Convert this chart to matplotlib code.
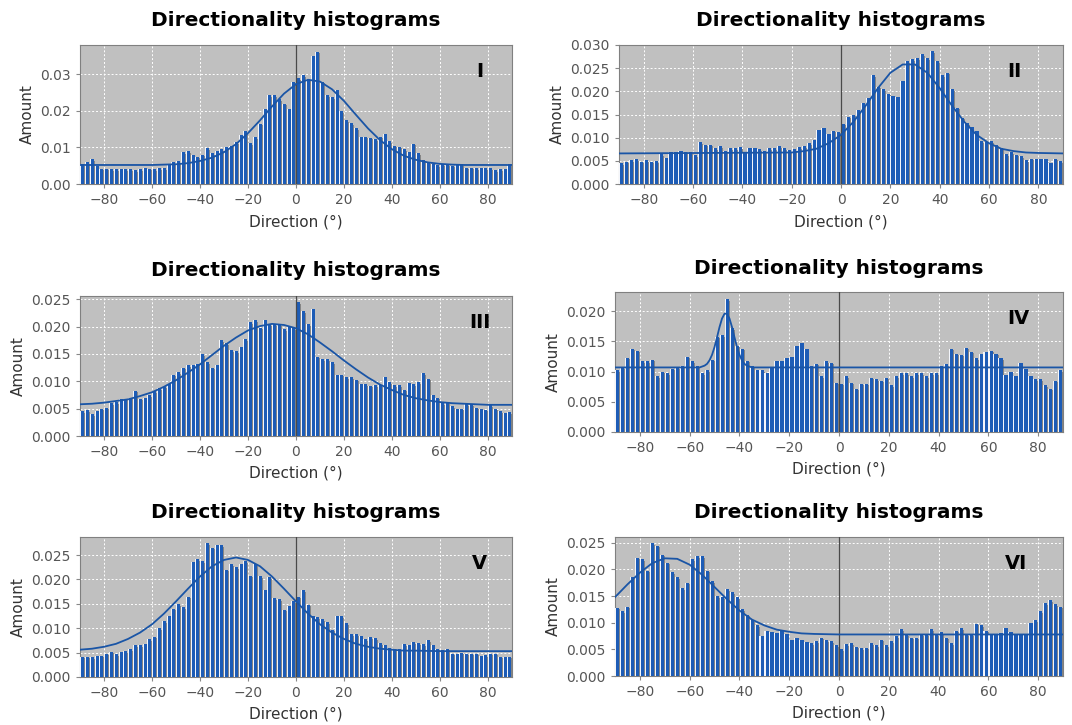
import matplotlib
matplotlib.use('Agg')
import matplotlib.pyplot as plt
from matplotlib.ticker import FormatStrFormatter
import numpy as np

# direction bins, 2 degrees wide, from -90 to 90
bin_left = np.arange(-90, 90, 2)

# histogram values (one per bin, left to right)
amount_I = [0.0055, 0.0060, 0.0067, 0.0050, 0.0042, 0.0042, 0.0040, 0.0040, 0.0042, 0.0040,
            0.0040, 0.0038, 0.0040, 0.0043, 0.0042, 0.0040, 0.0044,
            0.0044, 0.0053, 0.0060, 0.0062, 0.0087, 0.0090, 0.0078, 0.0075, 0.0080,
            0.0098, 0.0085, 0.0090, 0.0095, 0.0100, 0.0105, 0.0115, 0.0135, 0.0145, 0.0112,
            0.0128, 0.0165, 0.0205,
            0.0243, 0.0242, 0.0232, 0.0220, 0.0206, 0.0280,
            0.0290, 0.0298, 0.0288, 0.0350, 0.0362, 0.0280,
            0.0243, 0.0238, 0.0256, 0.0200,
            0.0175, 0.0167, 0.0152, 0.0129, 0.0129, 0.0127, 0.0122, 0.0129, 0.0138, 0.0118, 0.0105,
            0.0102, 0.0095, 0.0088, 0.0110, 0.0085, 0.0065, 0.0060, 0.0055, 0.0052, 0.0055,
            0.0055, 0.0050, 0.0052, 0.0055, 0.0045, 0.0045, 0.0043, 0.0043, 0.0043, 0.0043,
            0.0038, 0.0040, 0.0040, 0.0055]
amount_II = [0.0045, 0.0048, 0.0052, 0.0053, 0.0048, 0.0052, 0.0048, 0.0050, 0.0065, 0.0057,
             0.0070, 0.0070, 0.0072, 0.0070, 0.0068, 0.0062,
             0.0090, 0.0085, 0.0085, 0.0077, 0.0082, 0.0072, 0.0078, 0.0077, 0.0080, 0.0068,
             0.0078, 0.0078, 0.0075, 0.0072, 0.0078, 0.0077, 0.0082, 0.0078, 0.0073, 0.0075,
             0.0080, 0.0082, 0.0088,
             0.0095, 0.0117, 0.0120, 0.0108, 0.0115, 0.0113,
             0.0130, 0.0145, 0.0150, 0.0160, 0.0175, 0.0185, 0.0235, 0.0210, 0.0205, 0.0195,
             0.0190, 0.0188, 0.0222, 0.0265, 0.0270, 0.0272, 0.0280, 0.0272, 0.0287, 0.0265,
             0.0235, 0.0240, 0.0205, 0.0165, 0.0143, 0.0132, 0.0122, 0.0115, 0.0092, 0.0090,
             0.0093, 0.0085, 0.0077, 0.0065, 0.0068, 0.0063, 0.0060, 0.0052, 0.0055, 0.0053,
             0.0055, 0.0055, 0.0045, 0.0055, 0.0050]
amount_III = [0.0045, 0.0047, 0.0040, 0.0046, 0.0050, 0.0052, 0.0060, 0.0062, 0.0067, 0.0068,
              0.0070, 0.0083, 0.0068, 0.0070, 0.0075, 0.0082, 0.0088, 0.0090, 0.0095, 0.0112,
              0.0117, 0.0125, 0.0130, 0.0130, 0.0132, 0.0150, 0.0135, 0.0125, 0.0130, 0.0175,
              0.0170, 0.0157, 0.0155, 0.0162, 0.0177, 0.0208, 0.0212, 0.0198, 0.0212, 0.0205,
              0.0205, 0.0205, 0.0195, 0.0202, 0.0197,
              0.0245, 0.0228, 0.0205, 0.0232, 0.0145, 0.0140, 0.0140, 0.0135, 0.0112, 0.0112,
              0.0107, 0.0107, 0.0103, 0.0095, 0.0095, 0.0092, 0.0093, 0.0093, 0.0108, 0.0098,
              0.0093, 0.0093, 0.0085, 0.0097, 0.0095, 0.0098, 0.0115, 0.0105, 0.0075, 0.0070,
              0.0060, 0.0062, 0.0055, 0.0050, 0.0050, 0.0058, 0.0058, 0.0052, 0.0050, 0.0048,
              0.0057, 0.0050, 0.0045, 0.0042, 0.0043]
amount_IV = [0.0103, 0.0107, 0.0123, 0.0138, 0.0135, 0.0117, 0.0117, 0.0120, 0.0093, 0.0100,
             0.0097, 0.0105, 0.0108, 0.0110, 0.0125, 0.0117, 0.0110, 0.0097, 0.0102, 0.0120,
             0.0158, 0.0160, 0.0220, 0.0172, 0.0143, 0.0138, 0.0118, 0.0110, 0.0103, 0.0102,
             0.0097, 0.0107, 0.0118, 0.0118, 0.0123, 0.0125, 0.0142, 0.0148, 0.0138, 0.0110,
             0.0113, 0.0093, 0.0117, 0.0115, 0.0082,
             0.0080, 0.0092, 0.0082, 0.0072, 0.0080, 0.0080, 0.0090, 0.0087, 0.0085, 0.0090,
             0.0078, 0.0093, 0.0097, 0.0097, 0.0092, 0.0098, 0.0098, 0.0093, 0.0097, 0.0098,
             0.0110, 0.0112, 0.0138, 0.0130, 0.0128, 0.0140, 0.0133, 0.0122, 0.0130, 0.0132,
             0.0135, 0.0130, 0.0122, 0.0095, 0.0100, 0.0092, 0.0115, 0.0105, 0.0093, 0.0088,
             0.0088, 0.0078, 0.0072, 0.0085, 0.0102]
amount_V = [0.0042, 0.0042, 0.0040, 0.0044, 0.0044, 0.0048, 0.0052, 0.0047, 0.0052, 0.0053,
            0.0057, 0.0065, 0.0065, 0.0067, 0.0078, 0.0083, 0.0100, 0.0115, 0.0125, 0.0140,
            0.0150, 0.0143, 0.0165, 0.0235, 0.0242, 0.0237, 0.0275, 0.0265, 0.0270, 0.0270,
            0.0220, 0.0232, 0.0225, 0.0232, 0.0238, 0.0208, 0.0232, 0.0207, 0.0178, 0.0205,
            0.0162, 0.0160, 0.0138, 0.0145, 0.0155,
            0.0165, 0.0178, 0.0148, 0.0125, 0.0122, 0.0118, 0.0112, 0.0097, 0.0125, 0.0125,
            0.0110, 0.0088, 0.0088, 0.0085, 0.0078, 0.0082, 0.0080, 0.0070, 0.0065, 0.0060,
            0.0058, 0.0058, 0.0068, 0.0065, 0.0072, 0.0070, 0.0068, 0.0075, 0.0065, 0.0058,
            0.0055, 0.0058, 0.0048, 0.0048, 0.0050, 0.0048, 0.0048, 0.0048, 0.0043, 0.0045,
            0.0048, 0.0048, 0.0042, 0.0042, 0.0042]
amount_VI = [0.0128, 0.0122, 0.0130, 0.0185, 0.0222, 0.0220, 0.0198, 0.0250, 0.0245, 0.0228,
             0.0213, 0.0195, 0.0185, 0.0165, 0.0175, 0.0220, 0.0225, 0.0225, 0.0198, 0.0178,
             0.0150, 0.0148, 0.0163, 0.0158, 0.0148, 0.0125, 0.0115, 0.0105, 0.0095, 0.0075,
             0.0085, 0.0082, 0.0080, 0.0085, 0.0078, 0.0068, 0.0072, 0.0067, 0.0063, 0.0062,
             0.0065, 0.0072, 0.0067, 0.0065, 0.0058,
             0.0050, 0.0060, 0.0062, 0.0055, 0.0052, 0.0053, 0.0062, 0.0058, 0.0068, 0.0058,
             0.0065, 0.0075, 0.0088, 0.0078, 0.0072, 0.0072, 0.0078, 0.0078, 0.0088, 0.0078,
             0.0082, 0.0072, 0.0062, 0.0085, 0.0090, 0.0078, 0.0078, 0.0098, 0.0095, 0.0085,
             0.0078, 0.0078, 0.0080, 0.0090, 0.0082, 0.0078, 0.0077, 0.0078, 0.0100, 0.0105,
             0.0122, 0.0137, 0.0143, 0.0135, 0.0130]

# fitted curves, points
fit_x_I = [-90, -60, -55, -50, -45, -40, -35, -30, -25, -20, -15, -10, -5, 0, 5, 10, 15,
           20, 25, 30, 35, 40, 45, 50, 55, 60, 65, 70, 90]
fit_y_I = [0.0052, 0.0052, 0.0053, 0.0054, 0.0057, 0.0063, 0.0072, 0.0087, 0.0109, 0.0139,
           0.0174, 0.0212, 0.0247, 0.0273, 0.0285, 0.0280, 0.0259, 0.0227, 0.0189, 0.0152,
           0.0120, 0.0095, 0.0077, 0.0066, 0.0059, 0.0055, 0.0053, 0.0052, 0.0052]
fit_x_II = [-90, -20, -15, -10, -5, 0, 5, 10, 15, 20, 25, 30, 35, 40, 45, 50, 55, 60, 65,
            70, 75, 80, 90]
fit_y_II = [0.0066, 0.0068, 0.0071, 0.0076, 0.0088, 0.0106, 0.0134, 0.0169, 0.0207, 0.0240,
            0.0258, 0.0258, 0.0240, 0.0207, 0.0169, 0.0134, 0.0106, 0.0088, 0.0076, 0.0071,
            0.0068, 0.0067, 0.0066]
fit_x_III = [-90, -85, -80, -75, -70, -65, -60, -55, -50, -45, -40, -35, -30, -25, -20, -15,
             -10, -5, 0, 5, 10, 15, 20, 25, 30, 35, 40, 45, 50, 55, 60, 65, 70, 80, 90]
fit_y_III = [0.0058, 0.0059, 0.0061, 0.0064, 0.0067, 0.0073, 0.0080, 0.0090, 0.0102, 0.0116,
             0.0131, 0.0148, 0.0165, 0.0180, 0.0193, 0.0201, 0.0205, 0.0203, 0.0197, 0.0186,
             0.0171, 0.0155, 0.0138, 0.0122, 0.0107, 0.0094, 0.0084, 0.0075, 0.0069, 0.0065,
             0.0062, 0.0060, 0.0059, 0.0057, 0.0057]
fit_x_IV = [-90, -56, -54, -53, -52, -51, -50, -49, -48, -47, -46, -45, -44, -43, -42, -41,
            -40, -39, -38, -37, -35, 90]
fit_y_IV = [0.0107, 0.0107, 0.0110, 0.0113, 0.0119, 0.0128, 0.0141, 0.0157, 0.0174, 0.0188,
            0.0196, 0.0196, 0.0188, 0.0174, 0.0157, 0.0141, 0.0128, 0.0119, 0.0113, 0.0110,
            0.0107, 0.0107]
fit_x_V = [-90, -85, -80, -75, -70, -65, -60, -55, -50, -45, -40, -35, -30, -25, -20, -15,
           -10, -5, 0, 5, 10, 15, 20, 25, 30, 35, 40, 45, 50, 60, 90]
fit_y_V = [0.0056, 0.0058, 0.0062, 0.0068, 0.0078, 0.0091, 0.0108, 0.0130, 0.0155, 0.0181,
           0.0206, 0.0227, 0.0240, 0.0245, 0.0240, 0.0227, 0.0206, 0.0181, 0.0155, 0.0130,
           0.0108, 0.0091, 0.0078, 0.0068, 0.0062, 0.0058, 0.0056, 0.0054, 0.0054, 0.0053,
           0.0053]
fit_x_VI = [-90, -85, -80, -75, -70, -65, -60, -55, -50, -45, -40, -35, -30, -25, -20, -15,
            -10, 0, 90]
fit_y_VI = [0.0148, 0.0172, 0.0194, 0.0212, 0.0221, 0.0220, 0.0209, 0.0190, 0.0167, 0.0144,
            0.0123, 0.0106, 0.0095, 0.0087, 0.0083, 0.0080, 0.0079, 0.0078, 0.0078]

labels = ['I', 'II', 'III', 'IV', 'V', 'VI']
amounts = [amount_I, amount_II, amount_III, amount_IV, amount_V, amount_VI]
fits = [(fit_x_I, fit_y_I), (fit_x_II, fit_y_II), (fit_x_III, fit_y_III),
        (fit_x_IV, fit_y_IV), (fit_x_V, fit_y_V), (fit_x_VI, fit_y_VI)]
y_tops = [0.038, 0.030, 0.0256, 0.0232, 0.0287, 0.0261]
y_ticks = [[0, 0.01, 0.02, 0.03],
           [0, 0.005, 0.010, 0.015, 0.020, 0.025, 0.030],
           [0, 0.005, 0.010, 0.015, 0.020, 0.025],
           [0, 0.005, 0.010, 0.015, 0.020],
           [0, 0.005, 0.010, 0.015, 0.020, 0.025],
           [0, 0.005, 0.010, 0.015, 0.020, 0.025]]

W, H = 1072, 725
# axes boxes in pixels: left, top, right, bottom
boxes = [(80, 45, 512, 184), (619, 45, 1063, 184),
         (80, 296, 512, 436), (615, 292, 1063, 432),
         (80, 537, 512, 677), (615, 537, 1063, 676)]
title_y = [20, 20, 271, 268, 513, 512]
xlabel_y = [222, 222, 473, 469, 714, 713]
label_x = [0.925, 0.89, 0.925, 0.90, 0.925, 0.895]

blue = '#1d5cb6'
bg = '#c0c0c0'

fig = plt.figure(figsize=(W / 100, H / 100), dpi=100, facecolor='white')

for i in range(6):
    l, t, r, b = boxes[i]
    ax = fig.add_axes([l / W, 1 - b / H, (r - l) / W, (b - t) / H])
    ax.set_facecolor(bg)
    top = y_tops[i]
    vals = np.array(amounts[i])

    # shadow, main bar, white highlight (JFreeChart look)
    ax.bar(bin_left + 0.55, vals - 0.012 * top, width=1.55, align='edge',
           color='#858585', linewidth=0, zorder=2)
    ax.bar(bin_left + 0.05, vals, width=1.7, align='edge',
           color=blue, linewidth=0, zorder=3)
    ax.bar(bin_left + 0.05, vals, width=0.42, align='edge',
           color='#f4f6fb', linewidth=0, zorder=4)

    ax.axvline(0, color='#4a4a4a', linewidth=0.9, zorder=5)
    fx, fy = fits[i]
    ax.plot(fx, fy, color='#1a55a6', linewidth=1.3, zorder=6)

    ax.set_xlim(-90, 90)
    ax.set_ylim(0, top)
    ax.set_xticks(range(-80, 81, 20))
    ax.set_yticks(y_ticks[i])
    if i == 0:
        ax.yaxis.set_major_formatter(FormatStrFormatter('%.2f'))
    else:
        ax.yaxis.set_major_formatter(FormatStrFormatter('%.3f'))
    ax.grid(True, color='white', linestyle=(0, (2, 2)), linewidth=0.7, zorder=1)
    ax.set_axisbelow(True)
    ax.tick_params(labelsize=10, labelcolor='#555555', color='#888888', length=3)
    for sp in ax.spines.values():
        sp.set_color('#808080')
        sp.set_linewidth(0.8)

    ax.text(label_x[i], 0.81, labels[i], transform=ax.transAxes, ha='center',
            va='center', fontsize=14, fontweight='bold', color='black', zorder=7)

    cx = (l + r) / 2 / W
    fig.text(cx, 1 - title_y[i] / H, 'Directionality histograms', ha='center',
             va='center', fontsize=14.5, fontweight='bold', color='black')
    fig.text(cx, 1 - xlabel_y[i] / H, 'Direction (°)', ha='center', va='center',
             fontsize=11, color='#333333')
    ax.set_ylabel('Amount', fontsize=11, color='#333333', labelpad=4)

fig.savefig('out.png', dpi=100, facecolor='white')
